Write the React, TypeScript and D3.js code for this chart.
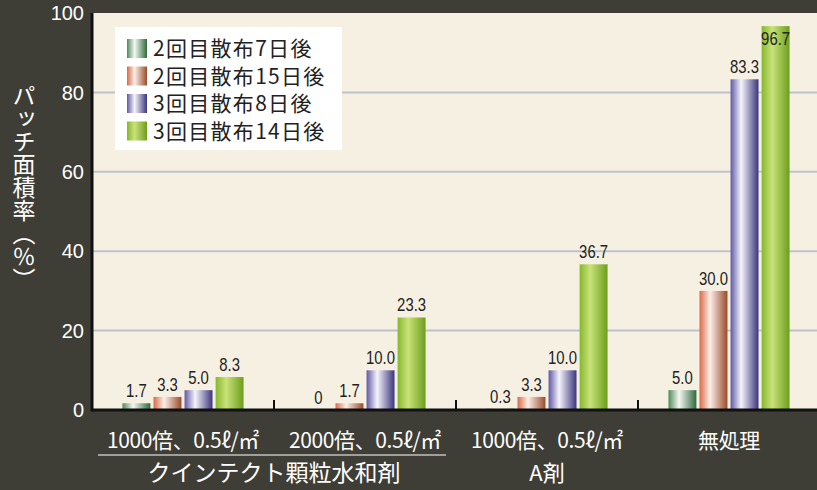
import React from "react";
import * as d3 from "d3";

const groups = ["g1", "g2", "g3", "g4"];
const groupLabels = ["1000倍、0.5ℓ/㎡", "2000倍、0.5ℓ/㎡", "1000倍、0.5ℓ/㎡", "無処理"];
const series = ["2回目散布7日後", "2回目散布15日後", "3回目散布8日後", "3回目散布14日後"];
const day7 = [1.7, 0, 0.3, 5.0];
const day15 = [3.3, 1.7, 3.3, 30.0];
const day8 = [5.0, 10.0, 10.0, 83.3];
const day14 = [8.3, 23.3, 36.7, 96.7];
const yTicks = [0, 20, 40, 60, 80, 100];

// gradient stops per series: edge, highlight, dark side
const grads = [
  ["#4f8a5a", "#f4f8f2", "#2f6a3c"],
  ["#d86a48", "#fbefe8", "#9a4b2a"],
  ["#5f58a4", "#f6f4fb", "#3b357e"],
  ["#86b82c", "#c9e27a", "#6c9e1c"],
];

const W = 817;
const H = 490;
const margin = { top: 13, right: -3, bottom: 80, left: 92 };

export default function App() {
  const table = [day7, day15, day8, day14];
  const x0 = d3.scaleBand(groups, [margin.left, W - margin.right]);
  const x1 = d3
    .scaleBand(series, [0, x0.bandwidth()])
    .paddingInner(0.1)
    .paddingOuter(0.98);
  const y = d3.scaleLinear([0, 100], [H - margin.bottom, margin.top]);
  const jp = "'Noto Sans CJK JP', 'Noto Sans', sans-serif";
  const num = "'Liberation Sans', Arial, sans-serif";

  return (
    <svg width={W} height={H} style={{ position: "absolute", left: 0, top: 0 }}>
      <defs>
        {grads.map((g, i) => (
          <linearGradient key={i} id={"grad" + i} x1="0" x2="1" y1="0" y2="0">
            <stop offset="0%" stopColor={g[0]} />
            <stop offset="38%" stopColor={g[1]} />
            <stop offset="100%" stopColor={g[2]} />
          </linearGradient>
        ))}
      </defs>
      <rect width={W} height={H} fill="#3e3e36" />
      <rect
        x={margin.left}
        y={margin.top}
        width={W - margin.left}
        height={y(0) - margin.top}
        fill="#f6f0e3"
      />
      {yTicks.slice(1, -1).map((t) => (
        <line
          key={t}
          x1={margin.left}
          x2={W}
          y1={y(t)}
          y2={y(t)}
          stroke="#bcc4ca"
          strokeWidth={2}
        />
      ))}
      {yTicks.map((t) => (
        <text
          key={t}
          x={84}
          y={y(t)}
          dy="0.36em"
          textAnchor="end"
          fill="#fff"
          fontSize={20}
          fontFamily={num}
        >
          {t}
        </text>
      ))}
      <text
        x={24}
        y={84}
        fill="#fff"
        fontSize={23}
        fontFamily={jp}
        style={{ writingMode: "vertical-rl" as any }}
      >
        パッチ面積率（％）
      </text>

      {groups.map((g, gi) =>
        series.map((s, si) => {
          const v = table[si][gi];
          const bx = (x0(g) ?? 0) + (x1(s) ?? 0);
          const bw = x1.bandwidth();
          const inside = v > 90;
          const ly = inside ? y(v) + 19 : y(v) - 6;
          return (
            <g key={g + s}>
              <rect
                x={bx}
                y={y(v)}
                width={bw}
                height={y(0) - y(v)}
                fill={`url(#grad${si})`}
              />
              <text
                transform={`translate(${bx + bw / 2},${ly}) scale(0.85,1)`}
                textAnchor="middle"
                fill="#222"
                fontSize={17.5}
                fontFamily={num}
              >
                {v === 0 ? "0" : v.toFixed(1)}
              </text>
            </g>
          );
        })
      )}

      <line x1={margin.left} x2={W} y1={y(0)} y2={y(0)} stroke="#111" strokeWidth={3} />
      <line
        x1={margin.left}
        x2={margin.left}
        y1={margin.top}
        y2={y(0) + 1.5}
        stroke="#111"
        strokeWidth={3}
      />
      {groups.slice(1).map((g) => (
        <line
          key={g}
          x1={x0(g)}
          x2={x0(g)}
          y1={y(0)}
          y2={y(0) - 10}
          stroke="#111"
          strokeWidth={2}
        />
      ))}

      {groups.map((g, gi) => (
        <text
          key={g}
          x={(x0(g) ?? 0) + x0.bandwidth() / 2}
          y={448}
          textAnchor="middle"
          fill="#fff"
          fontSize={21}
          letterSpacing={-0.4}
          fontFamily={jp}
        >
          {groupLabels[gi]}
        </text>
      ))}
      <line
        x1={(x0("g1") ?? 0) + 6}
        x2={(x0("g2") ?? 0) + x0.bandwidth() - 10}
        y1={455}
        y2={455}
        stroke="#fff"
        strokeWidth={1.2}
      />
      <text
        x={(x0("g2") ?? 0)}
        y={481}
        textAnchor="middle"
        fill="#fff"
        fontSize={23}
        fontFamily={jp}
      >
        クインテクト顆粒水和剤
      </text>
      <text
        x={(x0("g3") ?? 0) + x0.bandwidth() / 2}
        y={481}
        textAnchor="middle"
        fill="#fff"
        fontSize={22}
        fontFamily={jp}
      >
        A剤
      </text>

      <g transform="translate(115,27)">
        <rect width={227} height={123} fill="#fff" />
        {series.map((s, i) => (
          <g key={s} transform={`translate(12,${12 + i * 27.5})`}>
            <rect width={20} height={19} fill={`url(#grad${i})`} />
            <text
              x={26}
              y={9.5}
              dy="0.36em"
              fill="#222"
              fontSize={21}
              letterSpacing={1.3}
              fontFamily={jp}
            >
              {s}
            </text>
          </g>
        ))}
      </g>
    </svg>
  );
}
